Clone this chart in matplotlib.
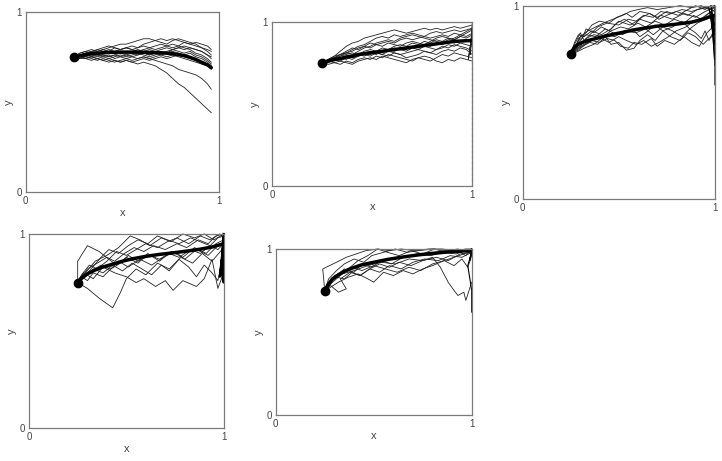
import matplotlib
matplotlib.use("Agg")
import matplotlib.pyplot as plt

plt.rcParams["font.family"] = ["Liberation Sans", "DejaVu Sans"]

# ---- panel 1: shared x grid, one y list per trajectory
p1_x = [0.25, 0.28, 0.31, 0.34, 0.37, 0.40, 0.43, 0.46, 0.49, 0.52, 0.55, 0.58, 0.61,
        0.64, 0.67, 0.70, 0.73, 0.76, 0.79, 0.82, 0.85, 0.88, 0.91, 0.94, 0.96]
p1_lines = [
    [0.75, 0.76, 0.77, 0.77, 0.78, 0.79, 0.80, 0.81, 0.82, 0.82, 0.83, 0.84, 0.85, 0.85, 0.84, 0.85, 0.84, 0.85, 0.84, 0.83, 0.82, 0.81, 0.80, 0.79, 0.78],
    [0.75, 0.77, 0.78, 0.79, 0.78, 0.79, 0.78, 0.80, 0.79, 0.80, 0.81, 0.80, 0.82, 0.83, 0.84, 0.83, 0.82, 0.84, 0.85, 0.84, 0.83, 0.82, 0.80, 0.78, 0.76],
    [0.75, 0.76, 0.77, 0.78, 0.77, 0.78, 0.79, 0.78, 0.79, 0.80, 0.79, 0.80, 0.81, 0.80, 0.81, 0.82, 0.81, 0.80, 0.81, 0.80, 0.79, 0.77, 0.76, 0.74, 0.72],
    [0.75, 0.76, 0.76, 0.77, 0.76, 0.77, 0.78, 0.77, 0.78, 0.77, 0.78, 0.79, 0.78, 0.79, 0.78, 0.79, 0.80, 0.79, 0.78, 0.77, 0.78, 0.76, 0.75, 0.73, 0.71],
    [0.75, 0.75, 0.76, 0.75, 0.76, 0.76, 0.75, 0.76, 0.77, 0.76, 0.77, 0.76, 0.77, 0.78, 0.77, 0.78, 0.77, 0.76, 0.77, 0.76, 0.75, 0.74, 0.72, 0.71, 0.70],
    [0.75, 0.75, 0.74, 0.75, 0.74, 0.75, 0.74, 0.75, 0.76, 0.75, 0.76, 0.77, 0.76, 0.75, 0.76, 0.77, 0.78, 0.79, 0.80, 0.81, 0.80, 0.79, 0.78, 0.76, 0.75],
    [0.75, 0.74, 0.75, 0.74, 0.73, 0.74, 0.73, 0.72, 0.73, 0.74, 0.73, 0.74, 0.75, 0.74, 0.75, 0.76, 0.75, 0.76, 0.75, 0.74, 0.73, 0.72, 0.71, 0.70, 0.69],
    [0.75, 0.74, 0.74, 0.73, 0.74, 0.73, 0.72, 0.73, 0.72, 0.73, 0.72, 0.73, 0.74, 0.73, 0.74, 0.75, 0.74, 0.75, 0.76, 0.75, 0.74, 0.73, 0.71, 0.70, 0.68],
    [0.75, 0.75, 0.74, 0.75, 0.74, 0.73, 0.74, 0.73, 0.72, 0.73, 0.72, 0.71, 0.72, 0.71, 0.70, 0.68, 0.66, 0.63, 0.60, 0.58, 0.55, 0.52, 0.49, 0.46, 0.44],
    [0.75, 0.76, 0.75, 0.76, 0.75, 0.76, 0.75, 0.76, 0.75, 0.76, 0.75, 0.74, 0.75, 0.74, 0.73, 0.72, 0.71, 0.70, 0.68, 0.67, 0.66, 0.65, 0.63, 0.60, 0.57],
    [0.75, 0.77, 0.78, 0.77, 0.79, 0.80, 0.81, 0.80, 0.79, 0.80, 0.79, 0.78, 0.79, 0.80, 0.79, 0.80, 0.81, 0.82, 0.81, 0.83, 0.82, 0.83, 0.82, 0.81, 0.79],
    [0.75, 0.76, 0.75, 0.77, 0.76, 0.75, 0.76, 0.74, 0.75, 0.74, 0.75, 0.76, 0.77, 0.76, 0.77, 0.76, 0.77, 0.78, 0.77, 0.76, 0.77, 0.75, 0.74, 0.72, 0.70],
    [0.75, 0.76, 0.77, 0.78, 0.79, 0.78, 0.77, 0.78, 0.77, 0.78, 0.77, 0.78, 0.77, 0.76, 0.77, 0.78, 0.77, 0.79, 0.80, 0.79, 0.80, 0.79, 0.78, 0.76, 0.74],
]
p1_mean = [0.75, 0.755, 0.762, 0.767, 0.77, 0.772, 0.774, 0.775, 0.776, 0.776, 0.776, 0.776, 0.775,
           0.774, 0.773, 0.772, 0.770, 0.767, 0.762, 0.756, 0.747, 0.735, 0.72, 0.705, 0.69]

# ---- panel 2
p2_x = [0.25, 0.28, 0.31, 0.34, 0.37, 0.40, 0.43, 0.46, 0.49, 0.52, 0.55, 0.58, 0.61,
        0.64, 0.67, 0.70, 0.73, 0.76, 0.79, 0.82, 0.85, 0.88, 0.91, 0.94, 0.97, 1.0]
p2_lines = [
    [0.75, 0.77, 0.79, 0.82, 0.85, 0.87, 0.88, 0.90, 0.91, 0.92, 0.93, 0.94, 0.95, 0.94, 0.93, 0.94, 0.95, 0.96, 0.95, 0.96, 0.95, 0.96, 0.97, 0.96, 0.97, 0.98],
    [0.75, 0.76, 0.78, 0.80, 0.81, 0.83, 0.85, 0.86, 0.88, 0.90, 0.91, 0.90, 0.92, 0.91, 0.92, 0.93, 0.92, 0.91, 0.93, 0.94, 0.93, 0.94, 0.95, 0.94, 0.95, 0.96],
    [0.75, 0.77, 0.78, 0.79, 0.81, 0.82, 0.84, 0.85, 0.84, 0.86, 0.87, 0.88, 0.87, 0.89, 0.90, 0.89, 0.90, 0.91, 0.90, 0.91, 0.92, 0.91, 0.93, 0.92, 0.91, 0.93],
    [0.75, 0.76, 0.77, 0.79, 0.80, 0.81, 0.80, 0.82, 0.83, 0.82, 0.84, 0.83, 0.85, 0.86, 0.85, 0.87, 0.86, 0.88, 0.87, 0.89, 0.88, 0.90, 0.89, 0.91, 0.90, 0.92],
    [0.75, 0.76, 0.76, 0.78, 0.77, 0.79, 0.80, 0.79, 0.81, 0.80, 0.82, 0.83, 0.82, 0.84, 0.83, 0.85, 0.84, 0.86, 0.85, 0.87, 0.86, 0.88, 0.87, 0.88, 0.89, 0.88],
    [0.75, 0.75, 0.77, 0.76, 0.78, 0.77, 0.79, 0.80, 0.79, 0.81, 0.80, 0.79, 0.81, 0.80, 0.78, 0.79, 0.80, 0.82, 0.81, 0.83, 0.84, 0.86, 0.85, 0.87, 0.86, 0.85],
    [0.75, 0.76, 0.75, 0.74, 0.76, 0.75, 0.77, 0.78, 0.77, 0.79, 0.78, 0.80, 0.79, 0.78, 0.77, 0.76, 0.78, 0.77, 0.76, 0.78, 0.80, 0.79, 0.81, 0.80, 0.79, 0.78],
    [0.75, 0.74, 0.75, 0.76, 0.75, 0.74, 0.76, 0.77, 0.78, 0.77, 0.79, 0.78, 0.77, 0.76, 0.75, 0.77, 0.78, 0.79, 0.78, 0.76, 0.75, 0.77, 0.76, 0.78, 0.77, 0.76],
    [0.75, 0.77, 0.79, 0.80, 0.82, 0.84, 0.83, 0.85, 0.87, 0.86, 0.85, 0.87, 0.86, 0.85, 0.87, 0.88, 0.87, 0.86, 0.88, 0.90, 0.91, 0.90, 0.89, 0.91, 0.93, 0.95],
    [0.75, 0.76, 0.78, 0.77, 0.79, 0.78, 0.80, 0.81, 0.80, 0.82, 0.81, 0.83, 0.84, 0.83, 0.82, 0.84, 0.83, 0.85, 0.84, 0.83, 0.85, 0.84, 0.86, 0.85, 0.84, 0.82],
    [0.75, 0.77, 0.78, 0.80, 0.81, 0.80, 0.82, 0.84, 0.85, 0.87, 0.88, 0.89, 0.88, 0.90, 0.91, 0.92, 0.91, 0.90, 0.89, 0.88, 0.87, 0.89, 0.90, 0.92, 0.94, 0.96],
    [0.75, 0.76, 0.77, 0.78, 0.79, 0.78, 0.79, 0.81, 0.82, 0.81, 0.80, 0.82, 0.81, 0.80, 0.81, 0.82, 0.83, 0.82, 0.81, 0.80, 0.82, 0.83, 0.82, 0.84, 0.83, 0.80],
]
p2_mean = [0.75, 0.76, 0.77, 0.775, 0.785, 0.79, 0.80, 0.805, 0.81, 0.815, 0.82, 0.825, 0.83,
           0.835, 0.84, 0.845, 0.85, 0.855, 0.86, 0.865, 0.87, 0.875, 0.88, 0.882, 0.884, 0.885]
p2_edge_x = [1.0, 0.99, 1.0, 0.98, 1.0, 0.99, 1.0]
p2_edge_y = [0.99, 0.80, 0.95, 0.77, 0.92, 0.84, 0.97]
p2_drop_y = [0.76, 0.0]  # dashed run down the right border

# ---- panel 3: each trajectory has its own x list
p3_paths_x = [
    [0.25, 0.28, 0.30, 0.34, 0.38, 0.42, 0.47, 0.52, 0.56, 0.60, 0.65, 0.70, 0.76, 0.82, 0.88, 0.93, 0.97, 1.0],
    [0.25, 0.27, 0.31, 0.33, 0.37, 0.41, 0.45, 0.49, 0.53, 0.58, 0.62, 0.66, 0.71, 0.75, 0.80, 0.86, 0.91, 0.96, 1.0],
    [0.25, 0.28, 0.32, 0.36, 0.40, 0.44, 0.48, 0.51, 0.55, 0.58, 0.62, 0.67, 0.70, 0.74, 0.79, 0.84, 0.88, 0.92, 0.96, 1.0],
    [0.25, 0.29, 0.33, 0.38, 0.43, 0.47, 0.52, 0.57, 0.61, 0.64, 0.69, 0.73, 0.78, 0.83, 0.87, 0.91, 0.95, 0.99, 1.0],
    [0.25, 0.27, 0.30, 0.32, 0.35, 0.39, 0.44, 0.50, 0.55, 0.59, 0.63, 0.68, 0.72, 0.77, 0.83, 0.88, 0.94, 1.0],
    [0.25, 0.28, 0.31, 0.35, 0.39, 0.43, 0.46, 0.50, 0.54, 0.58, 0.61, 0.65, 0.69, 0.73, 0.77, 0.82, 0.86, 0.90, 0.94, 0.97, 1.0],
    [0.25, 0.30, 0.33, 0.37, 0.42, 0.46, 0.51, 0.55, 0.60, 0.64, 0.69, 0.74, 0.79, 0.84, 0.89, 0.93, 0.97, 1.0],
    [0.25, 0.28, 0.29, 0.33, 0.36, 0.40, 0.45, 0.49, 0.54, 0.57, 0.61, 0.66, 0.70, 0.75, 0.81, 0.86, 0.90, 0.95, 0.98, 1.0],
    [0.25, 0.29, 0.34, 0.38, 0.43, 0.48, 0.53, 0.59, 0.64, 0.68, 0.73, 0.78, 0.83, 0.87, 0.90, 0.93, 0.95, 0.97, 0.99, 1.0],
    [0.25, 0.27, 0.29, 0.32, 0.36, 0.41, 0.46, 0.50, 0.56, 0.61, 0.67, 0.72, 0.78, 0.84, 0.90, 0.95, 1.0, 1.0],
    [0.25, 0.28, 0.32, 0.37, 0.41, 0.45, 0.50, 0.54, 0.59, 0.63, 0.67, 0.71, 0.76, 0.80, 0.85, 0.89, 0.94, 0.98, 1.0],
]
p3_paths_y = [
    [0.75, 0.80, 0.84, 0.87, 0.89, 0.91, 0.93, 0.95, 0.97, 0.98, 0.99, 0.98, 0.99, 1.0, 0.99, 1.0, 0.98, 1.0],
    [0.75, 0.79, 0.83, 0.88, 0.86, 0.89, 0.87, 0.91, 0.93, 0.90, 0.94, 0.96, 0.93, 0.95, 0.97, 0.95, 0.98, 0.99, 0.97],
    [0.75, 0.78, 0.80, 0.82, 0.81, 0.83, 0.82, 0.79, 0.78, 0.81, 0.80, 0.83, 0.79, 0.82, 0.80, 0.84, 0.81, 0.79, 0.86, 0.90],
    [0.75, 0.82, 0.85, 0.84, 0.88, 0.86, 0.85, 0.88, 0.84, 0.86, 0.90, 0.87, 0.89, 0.92, 0.88, 0.91, 0.93, 0.95, 0.93],
    [0.75, 0.80, 0.86, 0.82, 0.85, 0.89, 0.91, 0.90, 0.93, 0.92, 0.95, 0.94, 0.97, 0.96, 0.98, 0.97, 0.99, 1.0],
    [0.75, 0.77, 0.79, 0.81, 0.80, 0.84, 0.80, 0.81, 0.77, 0.78, 0.82, 0.85, 0.82, 0.87, 0.84, 0.82, 0.86, 0.84, 0.80, 0.83, 0.85],
    [0.75, 0.79, 0.83, 0.85, 0.84, 0.87, 0.89, 0.88, 0.91, 0.89, 0.92, 0.90, 0.93, 0.91, 0.95, 0.93, 0.96, 0.98],
    [0.75, 0.78, 0.83, 0.86, 0.90, 0.92, 0.91, 0.94, 0.96, 0.94, 0.97, 0.96, 0.94, 0.97, 0.95, 0.98, 1.0, 0.98, 1.0, 0.99],
    [0.75, 0.77, 0.81, 0.83, 0.85, 0.84, 0.87, 0.86, 0.88, 0.85, 0.89, 0.87, 0.84, 0.88, 0.86, 0.83, 0.87, 0.82, 0.86, 0.69],
    [0.75, 0.81, 0.85, 0.84, 0.87, 0.85, 0.88, 0.92, 0.90, 0.93, 0.91, 0.95, 0.93, 0.96, 0.94, 0.97, 0.99, 0.59],
    [0.75, 0.76, 0.78, 0.80, 0.83, 0.81, 0.84, 0.82, 0.80, 0.82, 0.79, 0.81, 0.84, 0.87, 0.89, 0.92, 0.94, 0.97, 1.0],
]
p3_mean_x = [0.25, 0.26, 0.27, 0.29, 0.31, 0.34, 0.38, 0.42, 0.47, 0.52, 0.58, 0.64, 0.70, 0.76, 0.82, 0.88, 0.94, 0.98, 1.0]
p3_mean_y = [0.75, 0.77, 0.785, 0.80, 0.81, 0.82, 0.83, 0.84, 0.852, 0.862, 0.875, 0.885, 0.894, 0.90, 0.907, 0.915, 0.93, 0.945, 0.95]
p3_edge_x = [0.97, 1.0, 0.98, 1.0, 0.99, 1.0, 0.98, 1.0]
p3_edge_y = [0.99, 0.80, 0.97, 0.72, 0.95, 0.85, 1.0, 0.90]

# ---- panel 4
p4_paths_x = [
    [0.25, 0.30, 0.36, 0.43, 0.47, 0.50, 0.55, 0.60, 0.66, 0.72, 0.78, 0.84, 0.89, 0.94, 1.0],
    [0.25, 0.28, 0.33, 0.38, 0.44, 0.50, 0.55, 0.59, 0.65, 0.70, 0.74, 0.79, 0.86, 0.90, 0.94, 0.97, 1.0],
    [0.25, 0.25, 0.30, 0.36, 0.41, 0.45, 0.50, 0.56, 0.61, 0.67, 0.73, 0.79, 0.85, 0.91, 0.96, 1.0],
    [0.25, 0.29, 0.34, 0.40, 0.46, 0.52, 0.57, 0.62, 0.68, 0.73, 0.79, 0.85, 0.90, 0.95, 1.0],
    [0.25, 0.27, 0.31, 0.35, 0.40, 0.45, 0.50, 0.55, 0.60, 0.66, 0.71, 0.76, 0.82, 0.88, 0.93, 0.98, 1.0],
    [0.25, 0.28, 0.32, 0.37, 0.42, 0.46, 0.51, 0.57, 0.63, 0.69, 0.75, 0.80, 0.86, 0.92, 0.97, 1.0],
    [0.25, 0.29, 0.33, 0.38, 0.43, 0.48, 0.53, 0.58, 0.63, 0.68, 0.72, 0.77, 0.82, 0.86, 0.90, 0.94, 0.97, 1.0],
    [0.25, 0.30, 0.35, 0.40, 0.44, 0.49, 0.54, 0.59, 0.64, 0.70, 0.76, 0.81, 0.87, 0.92, 0.96, 1.0],
    [0.25, 0.27, 0.30, 0.33, 0.38, 0.42, 0.47, 0.51, 0.56, 0.62, 0.67, 0.72, 0.77, 0.83, 0.88, 0.93, 0.97, 1.0],
    [0.25, 0.31, 0.37, 0.41, 0.46, 0.51, 0.56, 0.61, 0.66, 0.71, 0.77, 0.83, 0.88, 0.93, 0.97, 1.0],
]
p4_paths_y = [
    [0.75, 0.72, 0.67, 0.62, 0.70, 0.77, 0.82, 0.79, 0.85, 0.82, 0.88, 0.85, 0.90, 0.86, 0.93],
    [0.75, 0.80, 0.77, 0.83, 0.80, 0.78, 0.75, 0.77, 0.73, 0.76, 0.71, 0.76, 0.73, 0.77, 0.87, 0.72, 0.80],
    [0.75, 0.86, 0.94, 0.91, 0.87, 0.84, 0.88, 0.85, 0.90, 0.86, 0.91, 0.88, 0.93, 0.90, 0.95, 0.97],
    [0.75, 0.80, 0.86, 0.89, 0.93, 0.99, 0.97, 0.94, 0.98, 0.96, 1.0, 0.98, 1.0, 0.97, 1.0],
    [0.75, 0.79, 0.84, 0.82, 0.86, 0.91, 0.89, 0.92, 0.95, 0.93, 0.96, 0.98, 0.95, 0.99, 0.97, 1.0, 0.98],
    [0.75, 0.77, 0.81, 0.84, 0.82, 0.86, 0.83, 0.87, 0.84, 0.88, 0.91, 0.87, 0.92, 0.89, 0.94, 0.96],
    [0.75, 0.78, 0.82, 0.80, 0.84, 0.81, 0.85, 0.82, 0.79, 0.84, 0.81, 0.87, 0.83, 0.78, 0.84, 0.80, 0.76, 0.90],
    [0.75, 0.82, 0.85, 0.88, 0.86, 0.90, 0.93, 0.91, 0.94, 0.92, 0.95, 0.93, 0.97, 0.95, 0.99, 1.0],
    [0.75, 0.78, 0.76, 0.80, 0.78, 0.82, 0.85, 0.89, 0.86, 0.89, 0.87, 0.90, 0.88, 0.92, 0.90, 0.94, 0.92, 0.95],
    [0.75, 0.81, 0.88, 0.92, 0.90, 0.94, 0.97, 0.95, 0.99, 0.97, 0.95, 0.98, 0.96, 0.94, 0.98, 0.99],
]
p4_mean_x = [0.25, 0.27, 0.30, 0.34, 0.38, 0.43, 0.48, 0.53, 0.60, 0.67, 0.74, 0.81, 0.88, 0.94, 1.0]
p4_mean_y = [0.75, 0.775, 0.795, 0.815, 0.83, 0.845, 0.86, 0.872, 0.885, 0.895, 0.903, 0.912, 0.922, 0.933, 0.95]
p4_edge_x = [1.0, 0.99, 1.0, 0.98, 1.0, 0.99, 1.0, 1.0]
p4_edge_y = [1.0, 0.85, 0.97, 0.78, 0.93, 0.80, 0.75, 0.98]

# ---- panel 5
p5_paths_x = [
    [0.25, 0.24, 0.31, 0.36, 0.41, 0.46, 0.52, 0.58, 0.64, 0.71, 0.78, 0.85, 0.92, 0.97, 1.0],
    [0.25, 0.29, 0.34, 0.40, 0.47, 0.54, 0.61, 0.68, 0.75, 0.80, 0.84, 0.88, 0.91, 0.93, 0.96, 0.97, 1.0],
    [0.25, 0.28, 0.32, 0.36, 0.33, 0.38, 0.43, 0.48, 0.53, 0.58, 0.64, 0.70, 0.76, 0.83, 0.89, 0.95, 1.0],
    [0.25, 0.27, 0.31, 0.35, 0.40, 0.45, 0.49, 0.55, 0.61, 0.67, 0.73, 0.80, 0.87, 0.93, 0.98, 1.0],
    [0.25, 0.28, 0.32, 0.37, 0.42, 0.47, 0.50, 0.55, 0.60, 0.65, 0.70, 0.75, 0.80, 0.86, 0.91, 0.96, 1.0],
    [0.25, 0.30, 0.35, 0.40, 0.44, 0.49, 0.54, 0.59, 0.65, 0.72, 0.79, 0.86, 0.92, 0.97, 1.0],
    [0.25, 0.27, 0.30, 0.34, 0.39, 0.44, 0.50, 0.56, 0.62, 0.68, 0.74, 0.80, 0.86, 0.91, 0.95, 0.98, 1.0],
    [0.25, 0.29, 0.33, 0.38, 0.42, 0.47, 0.52, 0.57, 0.63, 0.69, 0.75, 0.81, 0.87, 0.93, 0.97, 1.0],
    [0.25, 0.28, 0.31, 0.35, 0.39, 0.43, 0.48, 0.53, 0.58, 0.63, 0.69, 0.75, 0.82, 0.88, 0.94, 1.0],
]
p5_paths_y = [
    [0.75, 0.88, 0.92, 0.95, 0.97, 0.99, 1.0, 0.99, 1.0, 0.99, 1.0, 1.0, 0.99, 1.0, 1.0],
    [0.75, 0.80, 0.85, 0.87, 0.90, 0.92, 0.91, 0.94, 0.93, 0.95, 0.89, 0.80, 0.75, 0.72, 0.74, 0.69, 0.80],
    [0.75, 0.78, 0.74, 0.76, 0.82, 0.86, 0.84, 0.88, 0.86, 0.90, 0.88, 0.92, 0.94, 0.93, 0.96, 0.95, 0.98],
    [0.75, 0.82, 0.87, 0.91, 0.94, 0.92, 0.96, 0.98, 1.0, 0.98, 0.99, 1.0, 0.99, 1.0, 0.98, 1.0],
    [0.75, 0.77, 0.80, 0.83, 0.85, 0.82, 0.80, 0.86, 0.84, 0.87, 0.85, 0.88, 0.90, 0.93, 0.95, 0.97, 0.99],
    [0.75, 0.83, 0.88, 0.86, 0.91, 0.89, 0.93, 0.91, 0.95, 0.97, 0.96, 0.98, 0.97, 0.99, 1.0],
    [0.75, 0.79, 0.84, 0.86, 0.89, 0.87, 0.90, 0.88, 0.86, 0.89, 0.87, 0.91, 0.93, 0.90, 0.94, 0.89, 0.96],
    [0.75, 0.81, 0.85, 0.89, 0.93, 0.96, 1.0, 0.98, 0.96, 0.99, 0.97, 1.0, 0.98, 0.99, 0.96, 1.0],
    [0.75, 0.80, 0.83, 0.82, 0.86, 0.84, 0.88, 0.91, 0.89, 0.92, 0.90, 0.93, 0.95, 0.93, 0.97, 0.98],
]
p5_mean_x = [0.25, 0.27, 0.29, 0.32, 0.35, 0.39, 0.44, 0.50, 0.57, 0.65, 0.73, 0.81, 0.89, 0.95, 1.0]
p5_mean_y = [0.75, 0.79, 0.82, 0.845, 0.865, 0.885, 0.905, 0.92, 0.937, 0.952, 0.965, 0.975, 0.983, 0.988, 0.99]
p5_edge_x = [1.0, 0.99, 1.0, 0.98, 1.0, 1.0]
p5_edge_y = [1.0, 0.93, 0.98, 0.90, 0.75, 0.62]

start_pt = (0.25, 0.75)

W, H = 722, 461
# axes boxes in pixels: left, top, right, bottom
boxes = [(25.7, 11.7, 219.0, 192.0),
         (272.3, 21.7, 472.3, 185.7),
         (522.7, 5.7, 714.7, 199.0),
         (29.0, 234.0, 223.7, 428.3),
         (275.7, 249.0, 471.7, 415.0)]
show_xlabel = [True, True, False, True, True]

THIN = dict(color="#222222", lw=0.6)
MEAN = dict(color="black", lw=2.5, solid_capstyle="round")

fig = plt.figure(figsize=(W / 100, H / 100), dpi=100)


def make_ax(i):
    l, t, r, b = boxes[i]
    ax = fig.add_axes([l / W, 1 - b / H, (r - l) / W, (b - t) / H])
    ax.set_xlim(0, 1)
    ax.set_ylim(0, 1)
    ax.set_xticks([0, 1])
    ax.set_yticks([0, 1])
    ax.set_xticklabels(["0", "1"])
    ax.set_yticklabels(["0", "1"])
    ax.tick_params(length=0, labelsize=7, labelcolor="#444444", pad=3)
    for s in ax.spines.values():
        s.set_color("#7a7a7a")
        s.set_linewidth(0.9)
    ax.set_ylabel("y", fontsize=8, color="#444444")
    ax.yaxis.set_label_coords(-12 / (r - l), 0.5)
    if show_xlabel[i]:
        ax.set_xlabel("x", fontsize=8, color="#444444")
        ax.xaxis.set_label_coords(0.5, -16 / (b - t))
    return ax


def finish(ax):
    ax.plot(*start_pt, "o", color="black", ms=6, zorder=5, clip_on=False)


# panel 1
ax = make_ax(0)
for ys in p1_lines:
    ax.plot(p1_x, ys, **THIN)
ax.plot(p1_x, p1_mean, **MEAN)
finish(ax)

# panel 2
ax = make_ax(1)
for ys in p2_lines:
    ax.plot(p2_x, ys, **THIN)
ax.plot(p2_edge_x, p2_edge_y, clip_on=False, **THIN)
ax.plot([1.0, 1.0], p2_drop_y, color="#333333", lw=0.8, ls=(0, (3, 2)), clip_on=False)
ax.plot(p2_x, p2_mean, **MEAN)
finish(ax)

# panels 3-5
for i, (px, py, mx, my, ex, ey) in zip(
        [2, 3, 4],
        [(p3_paths_x, p3_paths_y, p3_mean_x, p3_mean_y, p3_edge_x, p3_edge_y),
         (p4_paths_x, p4_paths_y, p4_mean_x, p4_mean_y, p4_edge_x, p4_edge_y),
         (p5_paths_x, p5_paths_y, p5_mean_x, p5_mean_y, p5_edge_x, p5_edge_y)]):
    ax = make_ax(i)
    for xs, ys in zip(px, py):
        ax.plot(xs, ys, clip_on=False, **THIN)
    ax.plot(ex, ey, color="black", lw=1.6 if i == 3 else 0.8, clip_on=False)
    ax.plot(mx, my, **MEAN)
    finish(ax)

fig.savefig("out.png", dpi=100)
